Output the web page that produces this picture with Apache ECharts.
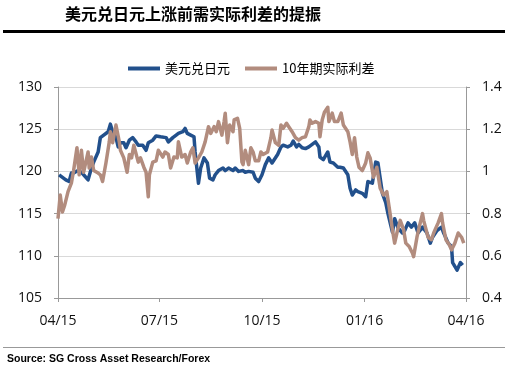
<!DOCTYPE html>
<html>
<head>
<meta charset="utf-8">
<script src="https://cdn.jsdelivr.net/npm/echarts@6/dist/echarts.min.js"></script>
<style>
html,body{margin:0;padding:0;background:#fff;}
#chart{width:527px;height:368px;}
</style>
</head>
<body>
<div id="chart"></div>
<script>
// Base date for day offsets
const baseDate = '2015-04-01';

// USD/JPY (left axis): days since base date, values
const usdDays = [
  1,4,7,10,12,14,18,21,23,27,
  30,32,36,38,41,45,47,49,52,54,
  56,59,61,64,67,70,72,76,79,81,
  85,88,92,97,99,103,106,108,112,114,
  116,119,122,123,126,128,131,134,136,139,
  141,144,148,150,153,157,159,162,166,168,
  171,175,177,180,183,186,189,192,193,197,
  200,202,206,209,211,214,216,219,222,225,
  228,231,234,235,238,242,244,247,251,253,
  256,260,262,264,267,269,273,276,278,282,
  285,287,291,294,296,300,302,305,309,311,
  314,317,320,323,327,331,334,336,340,344,
  346,350,353,354,358,361,363
];
const usdValues = [
  119.6,119.3,119.0,118.8,119.8,119.8,120.1,119.9,119.6,119.0,
  120.4,121.1,122.3,124.0,124.3,124.7,125.6,124.7,124.0,122.9,
  123.4,123.4,122.8,123.7,124.0,123.5,123.1,123.1,122.5,123.4,
  123.7,124.2,124.1,124.0,123.5,124.0,124.3,124.5,124.7,125.1,
  124.5,124.3,124.1,122.3,118.6,120.4,121.6,121.0,119.2,119.0,
  119.6,120.1,120.4,120.1,120.4,120.1,120.4,120.0,120.1,119.9,
  120.0,119.9,119.2,118.8,119.6,120.8,121.6,121.0,121.1,122.0,
  122.9,123.1,122.9,123.1,123.6,122.9,123.2,122.8,122.7,122.9,
  123.2,123.5,122.9,121.7,121.4,122.3,121.1,121.0,120.5,120.5,
  120.4,119.6,118.0,117.2,117.8,117.6,117.4,117.0,118.8,118.6,
  121.1,121.0,117.4,116.3,115.0,112.8,114.4,113.3,112.7,113.0,
  113.9,113.4,113.9,112.7,113.4,112.7,111.5,112.2,113.0,113.4,
  112.7,111.5,111.1,109.2,108.3,109.2,108.9
];

// 10Y real rate spread (right axis)
const spreadDays = [
  0,2,4,6,9,12,14,17,19,21,
  23,27,28,30,32,36,38,40,43,46,
  47,49,52,55,56,59,62,64,66,68,
  72,74,77,79,81,82,85,88,90,94,
  96,99,101,104,107,108,111,114,116,119,
  121,123,126,129,132,135,137,140,142,144,
  147,149,150,152,154,157,158,161,163,165,
  166,168,171,173,175,177,180,182,184,188,
  191,192,195,198,200,202,205,207,210,213,
  216,219,222,225,226,228,231,234,235,237,
  239,242,243,246,248,251,254,256,260,262,
  264,266,268,270,273,276,278,280,283,286,
  289,292,295,297,300,302,304,307,310,312,
  315,318,319,322,324,327,328,332,335,337,
  341,344,345,348,351,353,356,359,362,364
];
const spreadValues = [
  0.776,0.888,0.808,0.84,0.904,0.944,1.004,1.112,0.984,1.10,
  0.996,1.092,1.016,1.068,1.004,0.992,0.984,0.952,1.04,1.14,
  1.188,1.136,1.22,1.14,1.10,1.064,0.996,1.08,1.064,1.124,
  1.044,1.064,1.02,0.996,0.88,0.984,1.044,1.05,1.10,1.068,
  1.092,1.08,1.016,1.068,1.064,1.14,1.068,1.08,1.04,1.092,
  1.112,1.04,1.064,1.092,1.14,1.212,1.18,1.212,1.188,1.236,
  1.172,1.236,1.276,1.136,1.22,1.188,1.244,1.252,1.204,1.044,
  1.032,1.10,1.032,1.112,1.092,1.05,1.05,1.092,1.08,1.092,
  1.16,1.196,1.136,1.124,1.22,1.204,1.228,1.212,1.188,1.16,
  1.148,1.16,1.164,1.212,1.244,1.228,1.236,1.228,1.164,1.244,
  1.28,1.304,1.236,1.276,1.236,1.236,1.276,1.22,1.188,1.14,
  1.08,1.16,1.068,1.02,1.004,1.04,1.088,1.064,0.972,1.02,
  0.92,0.888,0.904,0.832,0.724,0.66,0.708,0.768,0.724,0.66,
  0.644,0.612,0.596,0.688,0.736,0.80,0.768,0.688,0.676,0.708,
  0.756,0.80,0.756,0.676,0.652,0.628,0.66,0.708,0.688,0.66
];

const seriesNames = ['美元兑日元', '10年期实际利差'];
const tickDates = ['2015-04-01','2015-07-01','2015-10-01','2016-01-01','2016-04-01'];
const tickLabels = ['04/15','07/15','10/15','01/16','04/16'];
const titleText = '美元兑日元上涨前需实际利差的提振';
const sourceText = 'Source: SG Cross Asset Research/Forex';

const DAY = 86400000;
function toUtc(s){ const p = s.split('-').map(Number); return Date.UTC(p[0], p[1]-1, p[2]); }
const baseUtc = toUtc(baseDate);
// tick positions expressed in days since base date
const tickDays = tickDates.map(s => Math.round((toUtc(s) - baseUtc) / DAY));
const usdData = usdDays.map((d,i)=>[d, usdValues[i]]);
const spreadData = spreadDays.map((d,i)=>[d, spreadValues[i]]);

const chart = echarts.init(document.getElementById('chart'), null, {renderer:'canvas'});
const labelFont = {color:'#111', fontSize:14, fontFamily:'Open Sans'};
chart.setOption({
  animation:false,
  backgroundColor:'#fff',
  graphic:[
    {type:'text', left:65, top:6, style:{text:titleText, fontSize:16, fontWeight:'bold', fontFamily:'Noto Sans CJK SC', fill:'#000'}},
    {type:'rect', shape:{x:3, y:30, width:502, height:3}, style:{fill:'#000'}},
    {type:'line', shape:{x1:3, y1:347.5, x2:505, y2:347.5}, style:{stroke:'#999', lineWidth:1}},
    {type:'text', left:7, top:354, style:{text:sourceText, fontSize:10.5, fontWeight:'bold', fontFamily:'Liberation Sans', fill:'#000'}}
  ],
  legend:{
    left:123, top:57,
    itemWidth:32, itemHeight:4, itemGap:15,
    icon:'rect',
    textStyle:{fontSize:13, fontFamily:'Noto Sans CJK SC', color:'#000'},
    data:seriesNames
  },
  grid:{left:58, right:61, top:87, bottom:70},
  xAxis:{
    type:'value',
    min:tickDays[0], max:tickDays[tickDays.length-1],
    axisLine:{lineStyle:{color:'#999'}},
    axisTick:{show:true, length:4, lineStyle:{color:'#999'}, customValues:tickDays},
    axisLabel:Object.assign({margin:16, customValues:tickDays, formatter:function(v){
      const i = tickDays.indexOf(Math.round(v)); return i>=0 ? tickLabels[i] : '';
    }}, labelFont),
    splitLine:{show:false}
  },
  yAxis:[
    {type:'value', min:105, max:130, interval:5, position:'left',
     axisLine:{show:true, lineStyle:{color:'#999'}},
     axisTick:{show:true, length:4, lineStyle:{color:'#999'}},
     axisLabel:Object.assign({margin:16}, labelFont),
     splitLine:{show:true, lineStyle:{color:'#d9d9d9'}}},
    {type:'value', min:0.4, max:1.4, interval:0.2, position:'right',
     axisLine:{show:true, lineStyle:{color:'#999'}},
     axisTick:{show:true, length:4, lineStyle:{color:'#999'}},
     axisLabel:Object.assign({margin:16}, labelFont),
     splitLine:{show:false}}
  ],
  series:[
    {name:seriesNames[0], type:'line', yAxisIndex:0, data:usdData, showSymbol:false,
     lineStyle:{width:3.5, color:'#22508c', join:'round'}, itemStyle:{color:'#22508c'}},
    {name:seriesNames[1], type:'line', yAxisIndex:1, data:spreadData, showSymbol:false,
     lineStyle:{width:3.5, color:'#b28c7e', join:'round'}, itemStyle:{color:'#b28c7e'}}
  ]
});
</script>
</body>
</html>
